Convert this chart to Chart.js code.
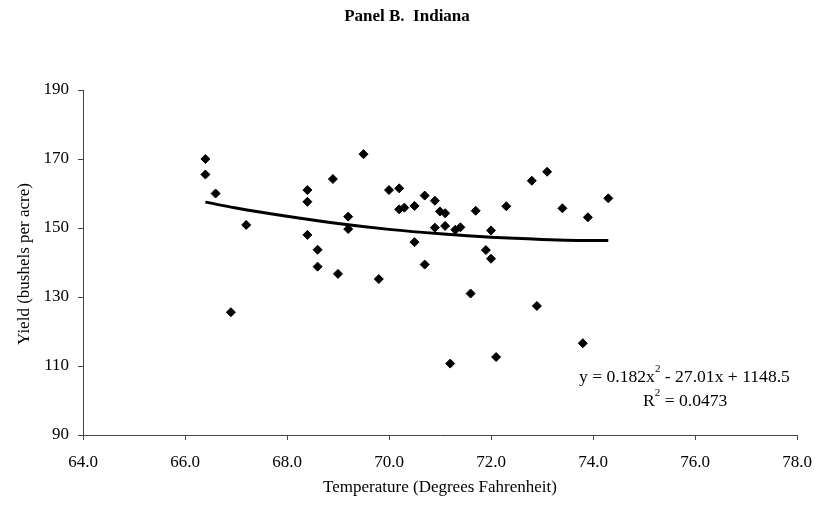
<!DOCTYPE html>
<html>
<head>
<meta charset="utf-8">
<script src="https://cdn.jsdelivr.net/npm/chart.js@4/dist/chart.umd.min.js"></script>
<style>
  html, body { margin: 0; padding: 0; background: #fff; }
  canvas { display: block; }
</style>
</head>
<body>
<canvas id="c" width="828" height="505"></canvas>
<script>
// ---- Data ----
const temperature = [66.4, 66.4, 66.6, 66.9, 67.2, 68.4, 68.4, 68.4, 68.6, 68.6,
  68.9, 69.0, 69.2, 69.2, 69.5, 69.8, 70.0, 70.2, 70.2, 70.3,
  70.5, 70.5, 70.7, 70.7, 70.9, 70.9, 71.0, 71.1, 71.1, 71.2,
  71.3, 71.4, 71.6, 71.7, 71.9, 72.0, 72.0, 72.1, 72.3, 72.8,
  72.9, 73.1, 73.4, 73.8, 73.9, 74.3];
const yieldBu = [170.0, 165.5, 160.0, 125.6, 150.9, 161.0, 157.6, 148.0, 143.7, 138.8,
  164.2, 136.7, 153.3, 149.7, 171.4, 135.2, 161.0, 161.5, 155.4, 155.9,
  156.4, 145.9, 159.4, 139.4, 157.9, 150.1, 154.8, 154.3, 150.6, 110.7,
  149.5, 150.2, 131.0, 155.0, 143.6, 141.1, 149.3, 112.6, 156.3, 163.7,
  127.4, 166.3, 155.7, 116.6, 153.1, 158.6];
// Trend curve
const trendX = [66.4, 67.0, 68.0, 69.0, 70.0, 71.0, 72.0, 73.0, 74.0, 74.3];
const trendY = [157.5, 155.8, 153.4, 151.3, 149.6, 148.3, 147.3, 146.7, 146.4, 146.4];
const titleText = 'Panel B.  Indiana';
const xTitle = 'Temperature (Degrees Fahrenheit)';
const yTitle = 'Yield (bushels per acre)';
const eqParts = ['y = 0.182x', '2', ' - 27.01x + 1148.5'];
const r2Parts = ['R', '2', ' = 0.0473'];

const FONT = "'Liberation Serif', 'Times New Roman', serif";
Chart.defaults.font.family = FONT;
Chart.defaults.color = '#000';

const points = temperature.map((t, i) => ({ x: t, y: yieldBu[i] }));
const trend = trendX.map((t, i) => ({ x: t, y: trendY[i] }));

function drawSup(ctx, parts, x, y, size) {
  ctx.textAlign = 'left';
  ctx.textBaseline = 'middle';
  ctx.font = size + 'px ' + FONT;
  ctx.fillText(parts[0], x, y);
  x += ctx.measureText(parts[0]).width;
  ctx.font = Math.round(size * 0.65) + 'px ' + FONT;
  ctx.fillText(parts[1], x, y - 8);
  x += ctx.measureText(parts[1]).width;
  ctx.font = size + 'px ' + FONT;
  ctx.fillText(parts[2], x, y);
}

const textPlugin = {
  id: 'texts',
  afterDraw(chart) {
    const ctx = chart.ctx;
    ctx.save();
    ctx.fillStyle = '#000';
    ctx.textAlign = 'center';
    ctx.textBaseline = 'middle';
    ctx.font = 'bold 17px ' + FONT;
    ctx.fillText(titleText, 407, 17);
    ctx.font = '17px ' + FONT;
    ctx.fillText(xTitle, 440, 488);
    ctx.save();
    ctx.translate(25, 264);
    ctx.rotate(-Math.PI / 2);
    ctx.fillText(yTitle, 0, 0);
    ctx.restore();
    drawSup(ctx, eqParts, 579, 377, 17.6);
    drawSup(ctx, r2Parts, 643, 401, 17.6);
    ctx.restore();
  }
};

new Chart(document.getElementById('c'), {
  type: 'scatter',
  data: {
    datasets: [
      {
        data: points,
        pointStyle: 'rectRot',
        pointRadius: 4.5,
        pointBorderWidth: 1,
        backgroundColor: '#000',
        borderColor: '#000',
        showLine: false,
        order: 1
      },
      {
        data: trend,
        showLine: true,
        pointRadius: 0,
        borderColor: '#000',
        borderWidth: 3,
        cubicInterpolationMode: 'monotone',
        fill: false,
        order: 2
      }
    ]
  },
  options: {
    responsive: false,
    animation: false,
    devicePixelRatio: 1,
    layout: { padding: { top: 90, right: 31, left: 0, bottom: 0 } },
    plugins: { legend: { display: false }, tooltip: { enabled: false }, title: { display: false } },
    scales: {
      x: {
        type: 'linear',
        min: 64, max: 78,
        afterFit(s) { s.height = 70; },
        ticks: { stepSize: 2, padding: 12, font: { size: 17 }, color: '#000',
          callback: v => Number(v).toFixed(1), maxRotation: 0 },
        grid: { drawOnChartArea: false, drawTicks: true, tickLength: 5, color: '#444' },
        border: { display: true, color: '#444', width: 1 }
      },
      y: {
        type: 'linear',
        min: 90, max: 190,
        afterFit(s) { s.width = 83; },
        ticks: { stepSize: 20, padding: 9, font: { size: 17 }, color: '#000' },
        grid: { drawOnChartArea: false, drawTicks: true, tickLength: 5, color: '#444' },
        border: { display: true, color: '#444', width: 1 }
      }
    }
  },
  plugins: [textPlugin]
});
</script>
</body>
</html>
